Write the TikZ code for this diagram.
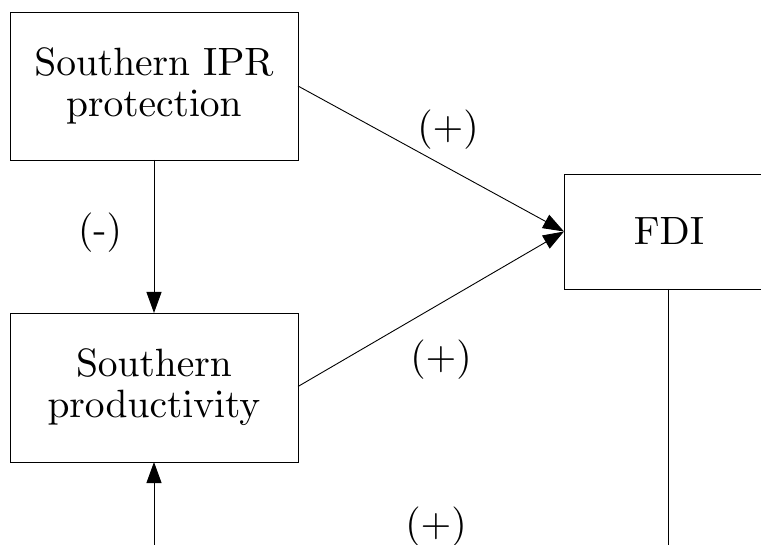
\documentclass[tikz,border=0pt]{standalone}
\usetikzlibrary{arrows.meta}
\font\bigrm=cmr10 at 39.5pt
\newcommand\myboxfont{\bigrm\baselineskip=41pt\relax}
\begin{document}
\begin{tikzpicture}[x=1pt,y=-1pt,
  box/.style={draw,line width=0.9pt,outer sep=0pt,inner sep=0pt,align=center,font=\myboxfont},
  lbl/.style={font=\bigrm,inner sep=0pt},
  conn/.style={line width=0.9pt,-{Triangle[length=21pt,width=15pt]}}]
\useasboundingbox (0,0) rectangle (761,545);
\clip (0,0) rectangle (761,545);
\node[box,minimum width=288pt,minimum height=148pt] (ipr) at (154,86) {Southern IPR\\protection};
\node[box,minimum width=288pt,minimum height=149pt] (prod) at (154,387.5) {Southern\\productivity};
\node[box,minimum width=210pt,minimum height=115pt] (fdi) at (669,231.5) {FDI};
\coordinate (botL) at (154,570);
\coordinate (botR) at (668,570);
\draw[conn] (ipr.east) -- (fdi.west);
\draw[conn] ([yshift=1pt]prod.east) -- (fdi.west);
\draw[conn] (ipr.south) -- (prod.north);
\draw[conn] (botL) -- (prod.south);
\draw[line width=0.9pt] ([xshift=-1pt]fdi.south) -- (botR);
\node[lbl] (l1) at (448,130) {(+)};
\node[lbl] (l2) at (100,233) {(-)};
\node[lbl] (l3) at (441,360) {(+)};
\node[lbl] (l4) at (436,527) {(+)};
\end{tikzpicture}
\end{document}
